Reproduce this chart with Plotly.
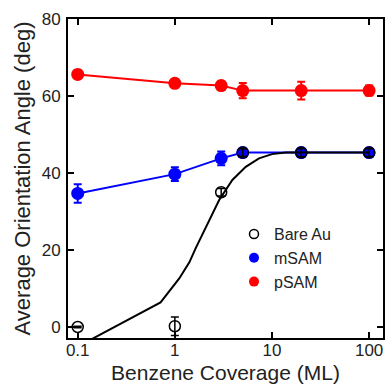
import plotly.graph_objects as go

# Data
coverage = [0.1, 1, 3, 5, 20, 100]
psam = [65.6, 63.3, 62.7, 61.4, 61.4, 61.4]
psam_err = [1.0, 1.0, 1.0, 2.0, 2.3, 1.3]
msam = [34.7, 39.7, 43.8, 45.3, 45.3, 45.3]
msam_err = [2.4, 1.8, 1.8, 1.0, 1.0, 1.0]
bare = [0.0, 0.2, 35.0, 45.3, 45.3, 45.3]
bare_err = [0.2, 2.4, 1.0, 1.0, 1.0, 1.0]

fit_x = [0.1, 0.713, 1.11, 1.41, 1.65, 2.26, 2.86, 3.91, 5.37, 7.35, 10.0, 13.8, 20, 100]
fit_y = [-5.1, 6.4, 12.6, 16.8, 20.6, 27.8, 33.0, 38.2, 41.6, 43.8, 44.9, 45.3, 45.3, 45.3]

x_ticks = [0.1, 1, 10, 100]
x_ticktext = ["0.1", "1", "10", "100"]
y_ticks = [0, 20, 40, 60, 80]

FONT = "Liberation Sans, Arial, Helvetica, sans-serif"

fig = go.Figure()

# pSAM
fig.add_trace(go.Scatter(
    x=coverage, y=psam, mode="lines+markers", showlegend=False,
    line=dict(color="#ff0000", width=2),
    marker=dict(color="#ff0000", size=13),
    error_y=dict(type="data", array=psam_err, color="#ff0000", thickness=2, width=4),
))
# mSAM
fig.add_trace(go.Scatter(
    x=coverage, y=msam, mode="lines+markers", showlegend=False,
    line=dict(color="#0000ff", width=2),
    marker=dict(color="#0000ff", size=13),
    error_y=dict(type="data", array=msam_err, color="#0000ff", thickness=2, width=4),
))
# Bare Au fit curve
fig.add_trace(go.Scatter(
    x=fit_x, y=fit_y, mode="lines", showlegend=False,
    line=dict(color="black", width=2),
))
# Bare Au points
fig.add_trace(go.Scatter(
    x=coverage, y=bare, mode="markers", showlegend=False,
    marker=dict(symbol="circle-open", color="black", size=11, line=dict(width=1.5, color="black")),
    error_y=dict(type="data", array=bare_err, color="black", thickness=1.5, width=4),
))

# Legend entries
fig.add_trace(go.Scatter(x=[None], y=[None], mode="markers", name="Bare Au",
                         marker=dict(symbol="circle-open", color="black", size=9,
                                     line=dict(width=1.5, color="black"))))
fig.add_trace(go.Scatter(x=[None], y=[None], mode="markers", name="mSAM",
                         marker=dict(color="#0000ff", size=10)))
fig.add_trace(go.Scatter(x=[None], y=[None], mode="markers", name="pSAM",
                         marker=dict(color="#ff0000", size=10)))

axis_common = dict(
    showline=True, linecolor="black", linewidth=2, mirror="ticks",
    ticks="inside", ticklen=6, tickwidth=2, tickcolor="black",
    showgrid=False, zeroline=False,
    tickfont=dict(family=FONT, size=17, color="#222"),
)

fig.update_layout(
    width=388, height=387,
    margin=dict(l=68, r=3, t=19, b=49),
    paper_bgcolor="white", plot_bgcolor="white",
    font=dict(family=FONT, color="#222"),
    xaxis=dict(type="log", range=[-1.1, 2.143], tickvals=x_ticks, ticktext=x_ticktext,
               ticklabelstandoff=-4,
               title=dict(text="Benzene Coverage (ML)", font=dict(family=FONT, size=21, color="#222"), standoff=6),
               **axis_common),
    yaxis=dict(range=[-2.86, 80], tickvals=y_ticks, ticklabelstandoff=2,
               title=dict(text="Average Orientation Angle (deg)", font=dict(family=FONT, size=22, color="#222"), standoff=5),
               **axis_common),
    legend=dict(x=0.527, y=0.379, xanchor="left", yanchor="top",
                bgcolor="rgba(0,0,0,0)", font=dict(family=FONT, size=16, color="#222"),
                itemwidth=30, tracegroupgap=0),
)

fig.write_html("out.html")
